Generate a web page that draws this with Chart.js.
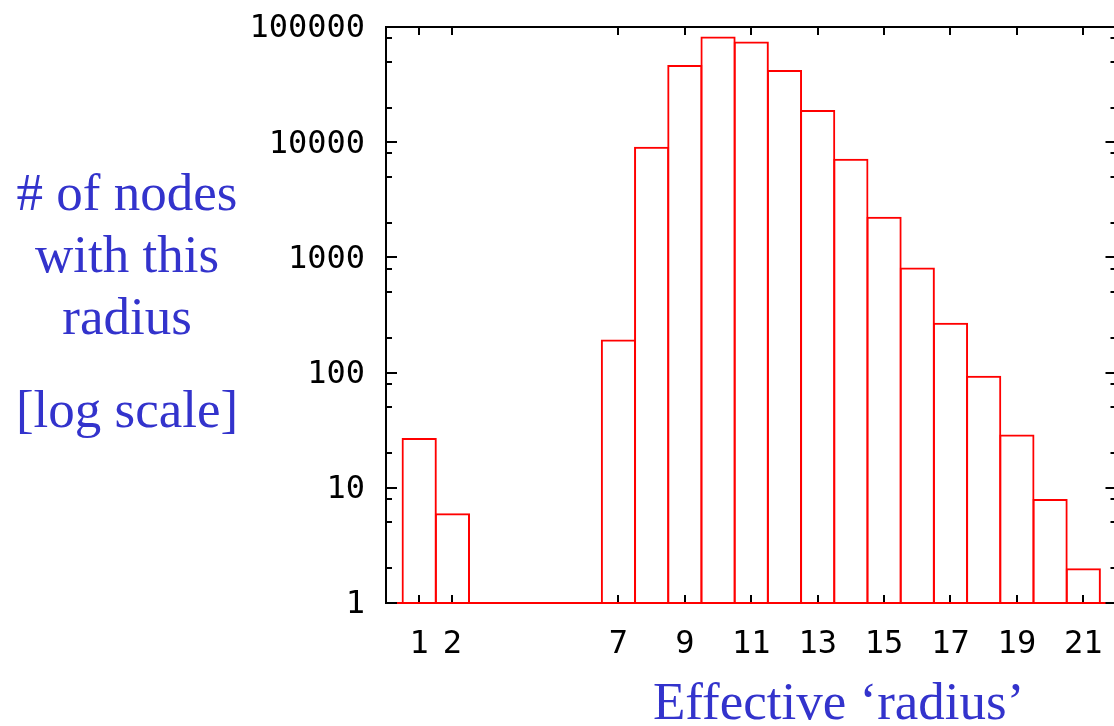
<!DOCTYPE html>
<html>
<head>
<meta charset="utf-8">
<title>radius histogram</title>
<script src="https://cdn.jsdelivr.net/npm/chart.js@4.4.1/dist/chart.umd.min.js"></script>
<style>
body { margin:0; background:#fff; overflow:hidden; width:1114px; height:726px; position:relative; }
#plot { position:absolute; left:0; top:0; }
.lbl { position:absolute; font-family:"Liberation Serif","Times New Roman",serif; font-size:53px; color:#3333cc; white-space:nowrap; line-height:62px; }
#ylab { left:0; top:161px; width:254px; text-align:center; }
#ylog { left:0; top:378px; width:254px; text-align:center; }
#xlab { left:653px; top:670px; }
</style>
</head>
<body>
<canvas id="plot" width="1120" height="726"></canvas>
<div class="lbl" id="ylab"># of nodes<br>with this<br>radius</div>
<div class="lbl" id="ylog">[log scale]</div>
<div class="lbl" id="xlab">Effective ‘radius’</div>

<script>
// histogram: effective radius vs number of nodes
var radius=[1,2,7,8,9,10,11,12,13,14,15,16,17,18,19,20,21];
var nodeCounts=[27,6,194,9140,46800,82500,74700,42300,19000,7190,2250,818,271,94,29,8,2];

var xTickValues=[1,2,7,9,11,13,15,17,19,21];
var yTickValues=[1,10,100,1000,10000,100000];
var yMinorSteps=[2,5,8];

var tickFont={family:'"DejaVu Sans Mono", monospace', size:32};

var histData=[];
for (var i=0;i<radius.length;i++) { histData.push({x:radius[i], y:nodeCounts[i]}) }

// gnuplot-like frame: box on all four sides, tics pointing inwards
var frameTics = {
	id:'frameTics',
	afterDatasetsDraw: function(chart) {
		var ctx=chart.ctx;
		var a=chart.chartArea;
		var xs=chart.scales.x, ys=chart.scales.y;
		ctx.save();
		ctx.strokeStyle='#000';
		ctx.lineWidth=2;
		ctx.beginPath();
		ctx.moveTo(a.left,a.top); ctx.lineTo(a.right,a.top);
		ctx.moveTo(a.right,a.top); ctx.lineTo(a.right,a.bottom);
		ctx.stroke();

		ctx.beginPath();
		for (var i=0;i<xTickValues.length;i++) {
			var px=Math.round(xs.getPixelForValue(xTickValues[i]));
			ctx.moveTo(px,a.bottom-1); ctx.lineTo(px,a.bottom-8);
			ctx.moveTo(px,a.top); ctx.lineTo(px,a.top+8);
		}
		for (var j=0;j<yTickValues.length;j++) {
			var py=Math.round(ys.getPixelForValue(yTickValues[j]));
			ctx.moveTo(a.left,py); ctx.lineTo(a.left+11,py);
			ctx.moveTo(a.right,py); ctx.lineTo(a.right-11,py);
			if (j==yTickValues.length-1) continue;
			for (var k=0;k<yMinorSteps.length;k++) {
				var pm=Math.round(ys.getPixelForValue(yTickValues[j]*yMinorSteps[k]));
				ctx.moveTo(a.left,pm); ctx.lineTo(a.left+6,pm);
				ctx.moveTo(a.right,pm); ctx.lineTo(a.right-6,pm);
			}
		}
		ctx.stroke();
		ctx.restore();
	}
};

function noPadding(scale) {
	scale.paddingTop=0; scale.paddingBottom=0;
	scale.paddingLeft=0; scale.paddingRight=0;
}

var chart=new Chart(document.getElementById('plot'), {
	type:'bar',
	data:{
		datasets:[{
			data:histData,
			backgroundColor:'rgba(255,255,255,0)',
			borderColor:'#ff0000',
			borderWidth:2,
			borderSkipped:'start',
			inflateAmount:0,
			barPercentage:1.06,
			categoryPercentage:1
		}]
	},
	options:{
		responsive:false,
		animation:false,
		layout:{padding:{top:27,left:0,right:3.5,bottom:0}},
		plugins:{legend:{display:false}, tooltip:{enabled:false}},
		scales:{
			x:{
				type:'linear', min:0, max:22, offset:false,
				grid:{display:false, drawTicks:false, offset:false},
				border:{display:true, color:'#ff0000', width:2},
				ticks:{font:tickFont, color:'#000', padding:22, autoSkip:false, maxRotation:0,
					callback:function(v){ return String(v) }},
				afterBuildTicks:function(s){ s.ticks=xTickValues.map(function(v){ return {value:v} }) },
				afterFit:function(s){ s.height=123; noPadding(s) }
			},
			y:{
				type:'logarithmic', min:1, max:100000,
				grid:{display:false, drawTicks:false},
				border:{display:true, color:'#000', width:2},
				ticks:{font:tickFont, color:'#000', padding:21, labelOffset:2,
					callback:function(v){ return String(v) }},
				afterBuildTicks:function(s){ s.ticks=yTickValues.map(function(v){ return {value:v} }) },
				afterFit:function(s){ s.width=386; noPadding(s) }
			}
		}
	},
	plugins:[frameTics]
});
</script>
</body>
</html>
